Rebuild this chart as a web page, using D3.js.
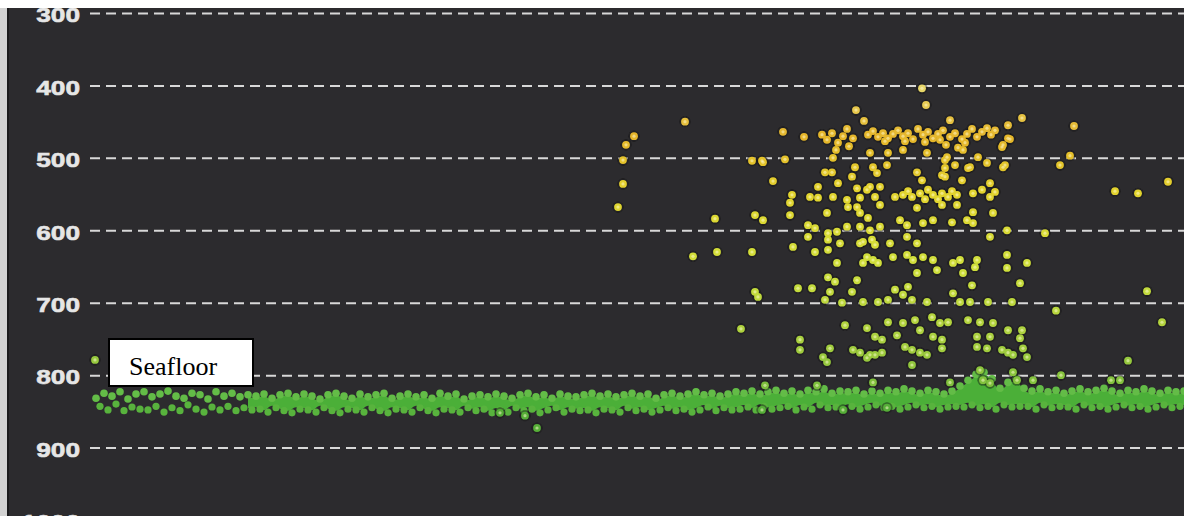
<!DOCTYPE html>
<html>
<head>
<meta charset="utf-8">
<script src="https://cdn.jsdelivr.net/npm/d3@7"></script>
<style>
  html, body { margin: 0; padding: 0; background: #fff; overflow: hidden; }
  svg { display: block; }
</style>
</head>
<body>
<svg id="chart" width="1184" height="516"></svg>
<script>
// ---- Depth axis ----
const depthTicks = [300, 400, 500, 600, 700, 800, 900, 1000];
const tickLabels = ["300", "400", "500", "600", "700", "800", "900", "1000"];

// ---- Seafloor return: ping positions and upper / lower edge depths (m) ----
const seafloorPings = d3.range(96, 1190, 8);
const seafloorTop = [
  832,825,829,823,833,826,
  823,830,826,822,829,832,825,827,833,823,829,825,830,827,
  829,826,832,827,825,830,826,829,833,827,825,829,832,826,830,827,825,832,829,
  826,830,827,832,825,829,826,833,829,827,830,826,829,832,827,825,830,827,832,826,829,830,827,825,829,
  826,830,827,825,829,826,832,827,825,829,826,823,827,825,829,826,823,
  825,822,826,823,821,825,822,826,821,823,819,825,822,823,821,826,822,825,821,823,819,822,825,821,823,826,822,
  815,807,799,796,805,818,810,805,
  818,822,819,823,821,825,822,819,823,821,818,822,825,821,823,819,822,825,821,823,822
];
const seafloorBottom = [
  843,848,840,849,844,847,
  848,843,851,845,849,841,847,851,844,848,843,849,845,848,
  847,851,845,849,852,847,848,851,845,849,852,847,848,851,845,849,852,847,848,
  851,845,849,852,847,848,851,845,849,847,852,848,851,845,849,847,852,848,845,851,847,849,848,852,847,
  848,851,845,849,847,851,848,845,849,847,851,848,844,849,845,848,847,
  844,848,843,847,845,843,848,844,847,841,845,844,848,843,847,844,841,845,843,847,844,841,845,843,847,844,843,
  844,841,845,843,847,841,844,843,
  843,847,841,845,843,844,847,841,845,843,847,844,841,845,843,847,844,841,845,843,844
];
// Pings before this one carry only a patchy bottom return
const solidBottomFrom = 248;

// ---- Fish echoes: [ping, depth m] ----
const scatteredEchoes = [
  [95,779],[634,470],[626,482],[623,503],[623,536],[618,568],[685,450],[783,464],[804,471],
  [752,504],[762,504],[785,502],[773,532],[715,584],[755,579],[763,586],[693,636],[717,630],
  [752,630],[741,736],[755,685],[758,692],[922,404],[926,427],[950,448],[1022,445],[1008,455],
  [1074,456],[1010,474],[1002,485],[1070,497],[1060,510],[1005,510],[987,507],[970,513],
  [1168,533],[1115,546],[1138,549],[990,535],[962,531],[1045,604],[1147,684],[1056,711],
  [1162,727],[1128,780],[1061,800],[1111,807],[1120,807],[500,852],[525,856],[537,873],
  [856,434],[864,449],[1003,482],[1008,473]
];
const upperLayer = [
  [822,468],[827,475],[832,466],[838,479],[843,470],[847,460],[849,484],[853,473],[836,489],
  [868,468],[873,463],[878,471],[883,466],[888,473],[893,467],[898,462],[903,470],[908,466],
  [913,474],[918,460],[923,468],[928,464],[933,473],[938,467],[943,462],[946,482],[950,471],
  [955,466],[958,486],[962,474],[967,467],[972,460],[977,471],[982,464],[987,459],[991,468],
  [995,462],[885,477],[905,477],[925,478],[940,475],[965,479]
];
const layer500 = [
  [763,506],[833,500],[870,493],[888,493],[903,489],[927,493],[947,499],[963,489],[978,499],
  [1003,513],[873,513],[877,521],[855,513],[945,503],[945,514],[942,524],[955,510],[968,514],
  [917,520],[887,510],[825,520],[832,520],[838,535],[852,526],[922,531],[945,526],[818,540],
  [857,542],[870,540],[880,540]
];
const layer550 = [
  [895,554],[903,551],[912,554],[920,549],[928,544],[933,551],[942,549],[948,554],[957,551],
  [908,546],[925,557],[938,557],[952,546],[973,549],[982,544],[990,554],[995,547],[792,551],
  [790,562],[790,579],[810,554],[818,555],[833,554],[847,558],[860,555],[867,544],[875,554],
  [880,565],[827,576],[848,568],[857,568],[860,576],[868,583],[917,569],[942,565],[957,565],
  [973,575],[993,576]
];
const layer600 = [
  [808,593],[815,597],[828,604],[837,602],[847,595],[860,595],[870,600],[880,595],[900,586],
  [907,593],[923,590],[933,586],[952,589],[967,586],[973,590],[1007,600],[990,609],[793,623],
  [808,609],[828,613],[840,618],[860,618],[872,613],[890,618],[907,609],[917,618]
];
const layer650 = [
  [815,630],[828,627],[863,616],[875,620],[867,637],[873,641],[878,645],[863,645],[893,637],
  [907,634],[913,641],[923,637],[933,641],[937,655],[917,659],[953,645],[960,641],[963,659],
  [977,641],[975,651],[1007,634],[1007,652],[1027,645],[837,645],[828,665],[835,671],[857,669],
  [798,680],[812,680],[830,685],[825,696],[852,685],[895,682],[903,689],[912,696],[908,678],
  [953,687],[972,676],[1020,673],[960,699],[970,699],[988,699],[1012,699],[842,700],[863,699],
  [878,699],[888,696],[927,699]
];
const layer750 = [
  [845,731],[867,735],[875,747],[882,751],[888,727],[897,745],[903,728],[915,724],[920,738],
  [932,720],[940,728],[948,727],[933,747],[942,751],[968,724],[980,727],[993,728],[1008,738],
  [1022,738],[977,747],[990,747],[1020,749],[800,751],[800,765],[830,763],[823,775],[827,782],
  [853,765],[860,769],[870,772],[875,772],[882,769],[905,761],[912,765],[920,769],[927,772],
  [912,786],[942,763],[977,761],[987,763],[1002,765],[1008,769],[1023,763],[1027,775],
  [867,776],[1013,772]
];
const nearBottom = [
  [765,814],[817,814],[873,810],[950,810],[980,793],[983,807],[990,811],[1013,796],[1017,807],
  [1033,807],[762,848],[843,848],[887,845]
];

// ---- Echo colour by depth ----
const colourStops = [400, 470, 550, 650, 750, 810, 845];
const colourValues = ["#e8d86c", "#e5b52a", "#e2d42e", "#cfdf3b", "#aad03f", "#80c03c", "#56ae38"];

const W = 1184, H = 516;
const svg = d3.select("#chart");

const x = d3.scaleLinear().domain([0, 1184]).range([0, W]);
const y = d3.scaleLinear().domain([300, 1000]).range([13, 520]);
const colour = d3.scaleLinear().domain(colourStops).range(colourValues).clamp(true);

const defs = svg.append("defs");
defs.append("filter").attr("id", "soft")
  .attr("x", "-20%").attr("y", "-20%").attr("width", "140%").attr("height", "140%")
  .append("feGaussianBlur").attr("stdDeviation", 0.6);

// Display frame
svg.append("rect").attr("width", W).attr("height", H).attr("fill", "#ffffff");
svg.append("rect").attr("x", 0).attr("y", 8).attr("width", 7).attr("height", H - 8).attr("fill", "#d2d2d2");
svg.append("rect").attr("x", 7).attr("y", 8).attr("width", W - 7).attr("height", H - 8).attr("fill", "#2c2b2e");
svg.append("rect").attr("x", 7).attr("y", 8).attr("width", 2).attr("height", H - 8).attr("fill", "#1b1b1d");

// Dashed depth gridlines
const gridAxis = d3.axisRight(y).tickValues(depthTicks).tickSize(W - 90).tickFormat("");
const grid = svg.append("g").attr("transform", "translate(90,0)").call(gridAxis);
grid.select(".domain").remove();
grid.selectAll(".tick line")
  .attr("stroke", "#d8d8d8").attr("stroke-width", 2).attr("stroke-dasharray", "10,6");

// Depth labels
const labelAxis = d3.axisLeft(y).tickValues(depthTicks).tickSize(0).tickPadding(0)
  .tickFormat((d, i) => tickLabels[i]);
const labels = svg.append("g").attr("transform", "translate(80,0)").call(labelAxis);
labels.select(".domain").remove();
labels.selectAll(".tick text")
  .attr("fill", "#e6e6e6")
  .attr("dy", "0.42em")
  .attr("stroke", "#e6e6e6").attr("stroke-width", 0.6)
  .style("font-family", "'Liberation Sans', Arial, sans-serif")
  .style("font-weight", "bold")
  .style("font-size", "21px")
  .attr("textLength", (d, i) => tickLabels[i].length * 14.6)
  .attr("lengthAdjust", "spacingAndGlyphs");

// Seafloor band
const sea = svg.append("g").attr("filter", "url(#soft)");
const seaRows = seafloorPings.map((p, i) => ({ p, top: seafloorTop[i], bot: seafloorBottom[i] }));
sea.append("path")
  .datum(seaRows.filter(d => d.p >= solidBottomFrom))
  .attr("fill", "#4caf38")
  .attr("d", d3.area().x(d => x(d.p)).y0(d => y(d.top) + 2).y1(d => y(d.bot) - 2).curve(d3.curveMonotoneX));
sea.selectAll("circle.top").data(seaRows).join("circle").attr("class", "top")
  .attr("cx", d => x(d.p)).attr("cy", d => y(d.top)).attr("r", 3.8).attr("fill", "#63bc46");
sea.selectAll("circle.bot").data(seaRows).join("circle").attr("class", "bot")
  .attr("cx", d => x(d.p) + 4).attr("cy", d => y(d.bot)).attr("r", 3.6).attr("fill", "#58b33e");

// Fish echoes
const echoes = [].concat(scatteredEchoes, upperLayer, layer500, layer550, layer600, layer650, layer750, nearBottom);
const fish = svg.append("g").attr("filter", "url(#soft)");
fish.selectAll("circle.halo").data(echoes).join("circle").attr("class", "halo")
  .attr("cx", d => x(d[0])).attr("cy", d => y(d[1])).attr("r", 5.6)
  .attr("fill", "#141414").attr("opacity", 0.45);
fish.selectAll("circle.dot").data(echoes).join("circle").attr("class", "dot")
  .attr("cx", d => x(d[0])).attr("cy", d => y(d[1])).attr("r", 3.9)
  .attr("fill", d => colour(d[1]));
fish.selectAll("circle.glint").data(echoes).join("circle").attr("class", "glint")
  .attr("cx", d => x(d[0])).attr("cy", d => y(d[1])).attr("r", 1.6)
  .attr("fill", "#fffbd6").attr("opacity", 0.5);

// Seafloor tag
const tag = svg.append("g");
tag.append("rect").attr("x", 109).attr("y", 339).attr("width", 144).attr("height", 47)
  .attr("fill", "#ffffff").attr("stroke", "#000000").attr("stroke-width", 2);
tag.append("text").attr("x", 129).attr("y", 375)
  .style("font-family", "'Liberation Serif', 'Times New Roman', serif")
  .style("font-size", "26px").attr("fill", "#000")
  .text("Seafloor");

// Top edge of the display
svg.append("rect").attr("x", 0).attr("y", 0).attr("width", W).attr("height", 8).attr("fill", "#ffffff");
</script>
</body>
</html>
